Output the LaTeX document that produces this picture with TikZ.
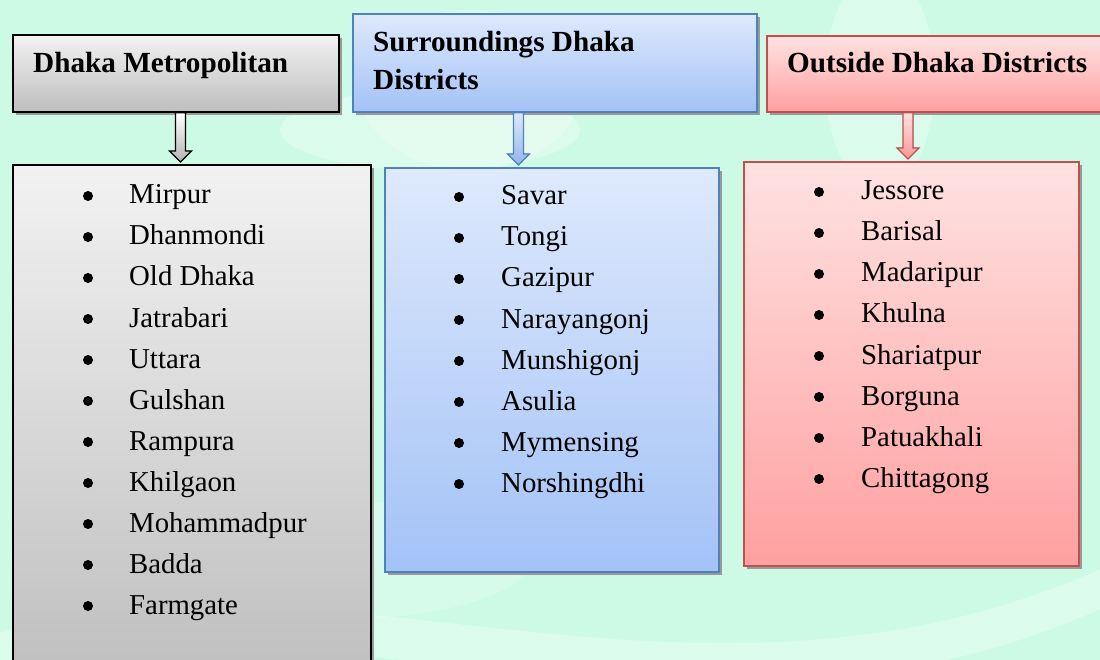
\documentclass[tikz,border=0pt]{standalone}
\usepackage{fontspec}
\setmainfont{Liberation Serif}
\usetikzlibrary{calc,shadows}
\definecolor{bgmint}{RGB}{204,250,229}
\definecolor{bluebd}{RGB}{79,129,189}
\definecolor{redbd}{RGB}{192,80,77}
\definecolor{bluetop}{RGB}{222,233,252}
\definecolor{bluebot}{RGB}{163,194,246}
\definecolor{redtop}{RGB}{255,226,226}
\definecolor{redbot}{RGB}{255,160,160}
\definecolor{graytop}{RGB}{242,242,242}
\definecolor{graybot}{RGB}{190,190,190}
\newcommand\blockarrow[4]{%
  \filldraw[#4] ($(#1.south -| #3)+(-5,0)$) -- ($(#2.north -| #3)+(-5,-13)$) -- ($(#2.north -| #3)+(-11,-13)$) -- ($(#2.north -| #3)+(0,-2)$) -- ($(#2.north -| #3)+(11,-13)$) -- ($(#2.north -| #3)+(5,-13)$) -- ($(#1.south -| #3)+(5,0)$) -- cycle;}
\begin{document}
\begin{tikzpicture}[x=1pt,y=-1pt,
  box/.style={rectangle, anchor=north west, inner sep=0pt, line width=1.8pt,
    drop shadow={shadow xshift=3pt, shadow yshift=-3pt, fill=black!40, opacity=1}},
  graybox/.style={box, draw=black, top color=graytop, bottom color=graybot},
  bluebox/.style={box, draw=bluebd, top color=bluetop, bottom color=bluebot},
  redbox/.style={box, draw=redbd, top color=redtop, bottom color=redbot},
  hdr/.style={anchor=base west, inner sep=0pt, font=\fontsize{29.2}{38}\selectfont\bfseries},
  item/.style={anchor=base west, inner sep=0pt, font=\fontsize{28.8}{41}\selectfont},
  grayarrow/.style={draw=black, line width=1.2pt, top color=white, bottom color=black!30},
  bluearrow/.style={draw=bluebd, line width=1.2pt, top color=bluetop, bottom color=bluebot!80!bluebd},
  redarrow/.style={draw=redbd, line width=1.2pt, top color=redtop, bottom color=redbot!90!redbd},
]
\useasboundingbox (0,0) rectangle (1100,660);
\clip (0,0) rectangle (1100,660);
% background
\fill[bgmint] (0,0) rectangle (1100,660);
\fill[white, opacity=0.3] (430,130) ellipse [x radius=150, y radius=40];
\fill[white, opacity=0.25] (470,90) ellipse [x radius=110, y radius=80];
\fill[white, opacity=0.3] (880,80) ellipse [x radius=55, y radius=110];
\fill[white, opacity=0.3] (-20,640) .. controls (300,520) and (700,760) .. (1120,560) -- (1120,600) .. controls (700,800) and (300,560) .. (-20,690) -- cycle;
\fill[white, opacity=0.2] (330,560) ellipse [x radius=200, y radius=60];

% headers
\node[graybox, minimum width=326pt, minimum height=77pt] (h1) at (12,34) {};
\node[bluebox, minimum width=404pt, minimum height=98pt] (h2) at (352,13) {};
\node[redbox, minimum width=360pt, minimum height=76pt] (h3) at (766,35) {};

% lists
\node[graybox, minimum width=358pt, minimum height=520pt] (l1) at (12,164) {};
\node[bluebox, minimum width=334pt, minimum height=404pt] (l2) at (384,167) {};
\node[redbox, minimum width=335pt, minimum height=404pt] (l3) at (743,161) {};

% header texts
\node[hdr] (t1) at (33,73) {Dhaka Metropolitan};
\node[hdr] (t2a) at (373,52) {Surroundings Dhaka};
\node[hdr] (t2b) at (373,90) {Districts};
\node[hdr] (t3) at (787,73) {Outside Dhaka Districts};

% arrows
\coordinate (c1) at (180.5,0);
\coordinate (c2) at (518.5,0);
\coordinate (c3) at (908,0);
\blockarrow{h1}{l1}{c1}{grayarrow}
\blockarrow{h2}{l2}{c2}{bluearrow}
\blockarrow{h3}{l3}{c3}{redarrow}

% list items
\foreach \name [count=\i from 0] in {Mirpur,Dhanmondi,Old Dhaka,Jatrabari,Uttara,Gulshan,Rampura,Khilgaon,Mohammadpur,Badda,Farmgate}{
  \fill (88,{204+41*\i-8}) circle (5);
  \node[item] (a\i) at (129,{204+41*\i}) {\name};
}
\foreach \name [count=\i from 0] in {Savar,Tongi,Gazipur,Narayangonj,Munshigonj,Asulia,Mymensing,Norshingdhi}{
  \fill (459,{205+41*\i-8}) circle (5);
  \node[item] (b\i) at (501,{205+41*\i}) {\name};
}
\foreach \name [count=\i from 0] in {Jessore,Barisal,Madaripur,Khulna,Shariatpur,Borguna,Patuakhali,Chittagong}{
  \fill (819,{200+41*\i-8}) circle (5);
  \node[item] (r\i) at (861,{200+41*\i}) {\name};
}
\end{tikzpicture}
\end{document}
